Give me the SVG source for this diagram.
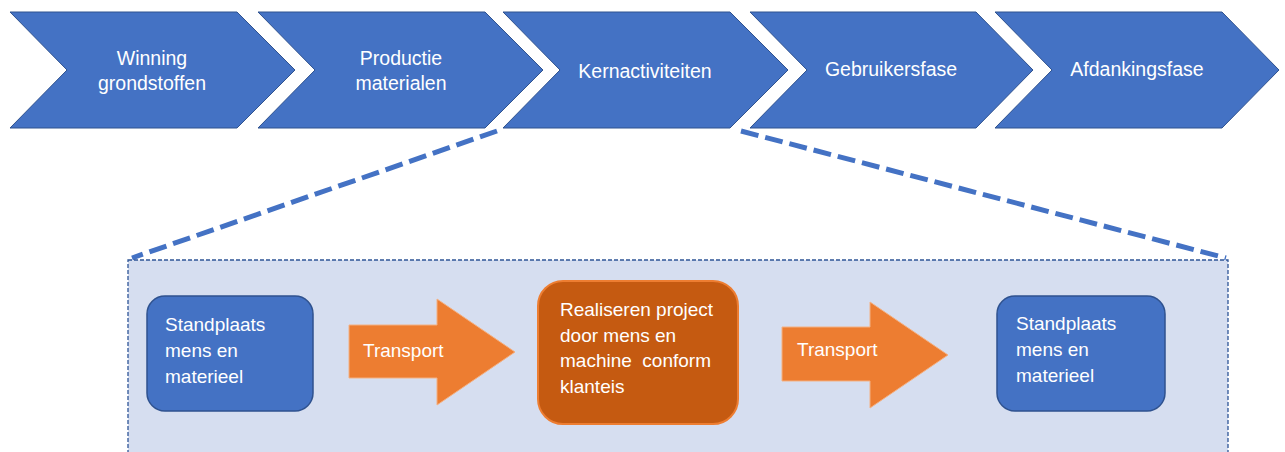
<svg xmlns="http://www.w3.org/2000/svg" width="1285" height="452" viewBox="0 0 1285 452">
<defs>
<style>
.chev{fill:#4472C4;stroke:#2F528F;stroke-width:1}
.t{font-family:"Liberation Sans",Arial,sans-serif;font-size:19px;fill:#fff}
.h{font-size:19.5px}
.tc{text-anchor:middle}
.blue{fill:#4472C4;stroke:#2F528F;stroke-width:1.5}
.arr{fill:#ED7D31;stroke:#F4B183;stroke-width:1}
.core{fill:#C55A11;stroke:#ED7D31;stroke-width:2}
.dash{fill:none;stroke:#4472C4;stroke-width:5;stroke-dasharray:18 7}
</style>
</defs>
<rect width="1285" height="452" fill="#fff"/>
<g id="chevrons">
<g id="c1"><path class="chev" d="M10,12 H237 L295,70 L237,128 H10 L67,70 Z"/><text class="t h tc" x="152" y="65">Winning</text><text class="t h tc" x="152" y="90">grondstoffen</text></g>
<g id="c2"><path class="chev" d="M258,12 H485 L543,70 L485,128 H258 L315,70 Z"/><text class="t h tc" x="401" y="65">Productie</text><text class="t h tc" x="401" y="90">materialen</text></g>
<g id="c3"><path class="chev" d="M503,12 H730 L788,70 L730,128 H503 L560,70 Z"/><text class="t h tc" x="645" y="78">Kernactiviteiten</text></g>
<g id="c4"><path class="chev" d="M750,12 H976 L1033,70 L976,128 H750 L807,70 Z"/><text class="t h tc" x="891" y="76">Gebruikersfase</text></g>
<g id="c5"><path class="chev" d="M995,12 H1222 L1279,70 L1222,128 H995 L1052,70 Z"/><text class="t h tc" x="1137" y="76">Afdankingsfase</text></g>
</g>
<g id="connectors">
<line class="dash" x1="497" y1="131" x2="132" y2="258"/>
<line class="dash" x1="741" y1="131" x2="1226" y2="258"/>
</g>
<g id="zoombox"><rect x="128" y="260" width="1100" height="200" fill="#D6DEF0" stroke="#2F5597" stroke-width="1.3" stroke-dasharray="4 2"/></g>
<g id="n1"><rect class="blue" x="147" y="296" width="166" height="115" rx="18"/><text class="t" x="165" y="331">Standplaats</text><text class="t" x="165" y="357">mens en</text><text class="t" x="165" y="383">materieel</text></g>
<g id="a1"><path class="arr" d="M349,325 H437 V299 L515,352 L437,405 V378 H349 Z"/><text class="t" x="363" y="357">Transport</text></g>
<g id="n2"><rect class="core" x="538" y="281" width="200" height="143" rx="25"/><text class="t" x="560" y="316">Realiseren project</text><text class="t" x="560" y="342">door mens en</text><text class="t" x="560" y="367" xml:space="preserve">machine  conform</text><text class="t" x="560" y="393">klanteis</text></g>
<g id="a2"><path class="arr" d="M782,327 H870 V302 L948,355 L870,408 V381 H782 Z"/><text class="t" x="797" y="356">Transport</text></g>
<g id="n3"><rect class="blue" x="997" y="296" width="168" height="115" rx="18"/><text class="t" x="1016" y="330">Standplaats</text><text class="t" x="1016" y="356">mens en</text><text class="t" x="1016" y="382">materieel</text></g>
</svg>
